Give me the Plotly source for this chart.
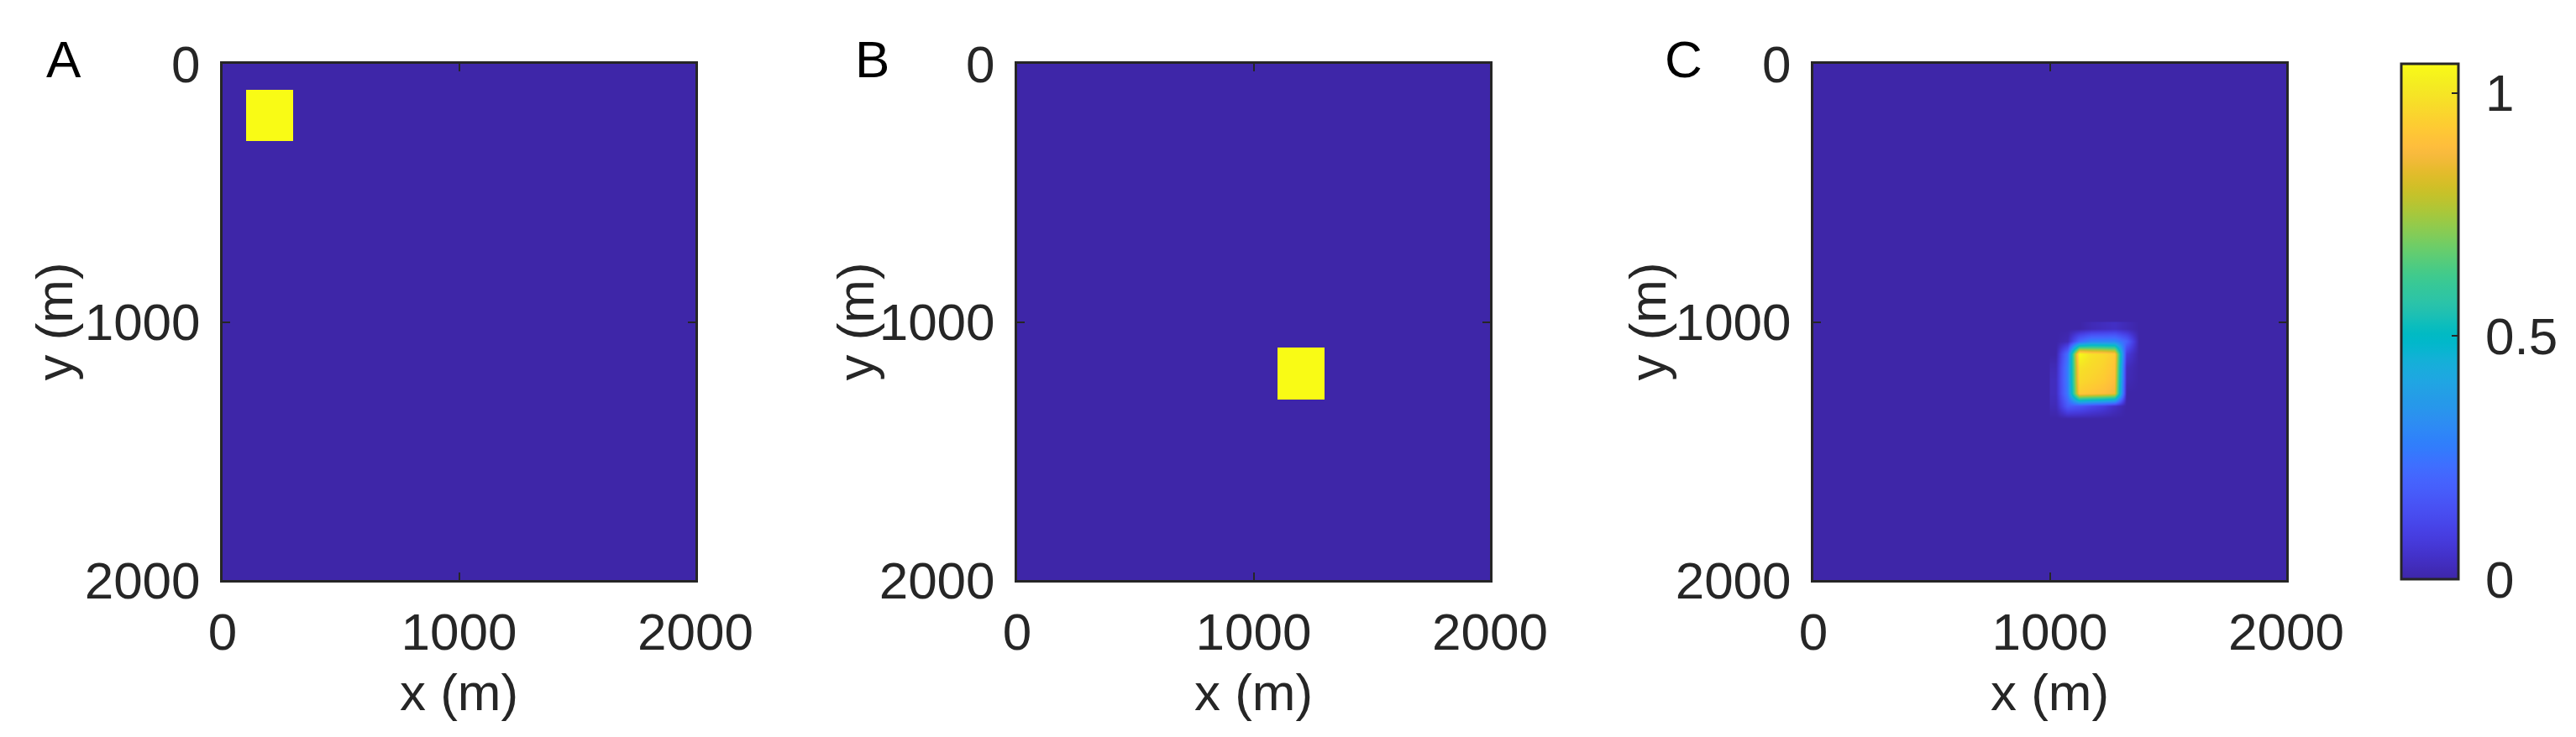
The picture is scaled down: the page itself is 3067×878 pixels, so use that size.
import numpy as np
import plotly.graph_objects as go

# ---------------- data ----------------
domain_edges = [0, 2000]          # model domain (m)
tick_vals = [0, 1000, 2000]
tick_text = ["0", "1000", "2000"]

# Panel A: initial square (value 1) between these coordinates
square_a_x = [100, 300]
square_a_y = [100, 300]
# Panel B: exact solution square
square_b_x = [1100, 1300]
square_b_y = [1100, 1300]
square_value = 1.0
background_value = 0.0

# Panel C: numerical solution, values on a 50 m grid (cell centres)
patch_c_x = [1025, 1075, 1125, 1175, 1225, 1275, 1325, 1375]
patch_c_y = [1025, 1075, 1125, 1175, 1225, 1275, 1325, 1375]
patch_c_z = [
    [0.00, 0.00, 0.00, 0.02, 0.03, 0.04, 0.02, 0.00],
    [0.00, 0.02, 0.22, 0.30, 0.30, 0.30, 0.20, 0.00],
    [0.00, 0.24, 1.06, 0.99, 0.97, 0.93, 0.08, 0.00],
    [0.02, 0.28, 0.99, 0.97, 0.95, 0.91, 0.03, 0.00],
    [0.03, 0.28, 0.97, 0.95, 0.93, 0.89, 0.02, 0.00],
    [0.03, 0.27, 0.93, 0.91, 0.89, 0.86, 0.00, 0.00],
    [0.02, 0.18, 0.16, 0.12, 0.09, 0.04, 0.00, 0.00],
    [0.00, 0.00, 0.00, 0.00, 0.00, 0.00, 0.00, 0.00],
]
cbar_max = 1.06
cbar_ticks = [0, 0.5, 1]
cbar_ticktext = ["0", "0.5", "1"]
panel_letters = ["A", "B", "C"]

# ---------------- parula colormap ----------------
parula = [
    [0.2422, 0.1504, 0.6603], [0.2504, 0.1650, 0.7076], [0.2578, 0.1818, 0.7511], [0.2647, 0.1978, 0.7952],
    [0.2706, 0.2147, 0.8364], [0.2751, 0.2342, 0.8710], [0.2783, 0.2559, 0.8991], [0.2803, 0.2782, 0.9221],
    [0.2813, 0.3006, 0.9414], [0.2810, 0.3228, 0.9579], [0.2795, 0.3447, 0.9717], [0.2760, 0.3667, 0.9829],
    [0.2699, 0.3892, 0.9906], [0.2602, 0.4123, 0.9952], [0.2440, 0.4358, 0.9988], [0.2206, 0.4603, 0.9973],
    [0.1963, 0.4847, 0.9892], [0.1834, 0.5074, 0.9798], [0.1786, 0.5289, 0.9682], [0.1764, 0.5499, 0.9520],
    [0.1687, 0.5703, 0.9359], [0.1540, 0.5902, 0.9218], [0.1460, 0.6091, 0.9079], [0.1380, 0.6276, 0.8973],
    [0.1248, 0.6459, 0.8883], [0.1113, 0.6635, 0.8763], [0.0952, 0.6798, 0.8598], [0.0689, 0.6948, 0.8394],
    [0.0297, 0.7082, 0.8163], [0.0036, 0.7203, 0.7917], [0.0067, 0.7312, 0.7660], [0.0433, 0.7411, 0.7394],
    [0.0964, 0.7500, 0.7120], [0.1408, 0.7584, 0.6842], [0.1717, 0.7670, 0.6554], [0.1938, 0.7758, 0.6251],
    [0.2161, 0.7843, 0.5923], [0.2470, 0.7918, 0.5567], [0.2906, 0.7973, 0.5188], [0.3406, 0.8008, 0.4789],
    [0.3909, 0.8029, 0.4354], [0.4456, 0.8024, 0.3909], [0.5044, 0.7993, 0.3480], [0.5616, 0.7942, 0.3045],
    [0.6174, 0.7876, 0.2612], [0.6720, 0.7793, 0.2227], [0.7242, 0.7698, 0.1910], [0.7738, 0.7598, 0.1646],
    [0.8203, 0.7498, 0.1535], [0.8634, 0.7406, 0.1596], [0.9035, 0.7330, 0.1774], [0.9393, 0.7288, 0.2100],
    [0.9728, 0.7298, 0.2394], [0.9956, 0.7434, 0.2371], [0.9970, 0.7659, 0.2199], [0.9952, 0.7893, 0.2028],
    [0.9892, 0.8136, 0.1885], [0.9802, 0.8386, 0.1751], [0.9721, 0.8638, 0.1624], [0.9640, 0.8890, 0.1506],
    [0.9592, 0.9135, 0.1353], [0.9626, 0.9365, 0.1204], [0.9687, 0.9594, 0.1042], [0.9769, 0.9839, 0.0805],
]
n = len(parula)
colorscale = [[i / (n - 1), "rgb(%d,%d,%d)" % tuple(round(c * 255) for c in rgb)] for i, rgb in enumerate(parula)]

# ---------------- figure ----------------
W, H = 3067, 878
FONT = "Liberation Sans, Arial, Helvetica, sans-serif"
TXT = "#262626"
FS = 62

# pixel layout
plot_left = [257, 1203, 2151]
plot_w = 563
plot_top, plot_bot = 68, 683
cb_left, cb_w = 2851, 68
cb_top, cb_bot = 68, 682

fig = go.Figure()


def square_field(sx, sy):
    xe = [domain_edges[0], sx[0], sx[1], domain_edges[1]]
    ye = [domain_edges[0], sy[0], sy[1], domain_edges[1]]
    z = [[background_value] * 3 for _ in range(3)]
    z[1][1] = square_value
    return xe, ye, z


for k, (sx, sy) in enumerate([(square_a_x, square_a_y), (square_b_x, square_b_y)]):
    xe, ye, z = square_field(sx, sy)
    fig.add_trace(go.Heatmap(
        x=xe, y=ye, z=z, colorscale=colorscale, zmin=0, zmax=1, showscale=False,
        xaxis="x" if k == 0 else "x2", yaxis="y" if k == 0 else "y2", hoverinfo="skip"))

# panel C: background + smoothed patch
fig.add_trace(go.Heatmap(
    x=domain_edges, y=domain_edges, z=[[background_value]], coloraxis="coloraxis",
    xaxis="x3", yaxis="y3", hoverinfo="skip"))
fig.add_trace(go.Heatmap(
    x=patch_c_x, y=patch_c_y, z=patch_c_z, coloraxis="coloraxis", zsmooth="best",
    xaxis="x3", yaxis="y3", hoverinfo="skip"))

axis_common = dict(
    range=[0, 2000], tickvals=tick_vals, ticktext=tick_text, ticks="inside", ticklen=9, tickwidth=2,
    tickcolor=TXT, showline=True, linewidth=3, linecolor=TXT, mirror="ticks", showgrid=False,
    zeroline=False, tickfont=dict(family=FONT, size=FS, color=TXT),
)

ydom = [1 - plot_bot / H, 1 - plot_top / H]
for i in range(3):
    sfx = "" if i == 0 else str(i + 1)
    xd = [plot_left[i] / W, (plot_left[i] + plot_w) / W]
    fig.layout["xaxis" + sfx] = dict(axis_common, domain=xd, anchor="y" + sfx, ticklabelstandoff=6)
    yax = dict(axis_common, domain=ydom, anchor="x" + sfx, ticklabelstandoff=11)
    yax["range"] = [2000, 0]
    fig.layout["yaxis" + sfx] = yax

fig.update_layout(
    width=W, height=H, margin=dict(l=0, r=0, t=0, b=0, autoexpand=False),
    paper_bgcolor="white", plot_bgcolor="white", showlegend=False,
    coloraxis=dict(
        colorscale=colorscale, cmin=0, cmax=cbar_max,
        colorbar=dict(
            x=cb_left / W, xanchor="left", xpad=0, y=1 - cb_bot / H, yanchor="bottom", ypad=0,
            len=cb_bot - cb_top, lenmode="pixels", thickness=cb_w, thicknessmode="pixels",
            outlinewidth=3, outlinecolor=TXT, tickvals=cbar_ticks,
            ticks="inside", ticklen=9, tickwidth=2, tickcolor=TXT, showticklabels=False,
        ),
    ),
)

annotations = []
letter_x = [68, 1030, 1997]
ytitle_x = [56, 1010, 1953]
for i in range(3):
    cx = plot_left[i] + plot_w / 2
    annotations.append(dict(x=cx / W, y=1 - 816 / H, xref="paper", yref="paper", text="x (m)",
                            showarrow=False, xanchor="center", yanchor="middle",
                            font=dict(family=FONT, size=FS, color=TXT)))
    annotations.append(dict(x=ytitle_x[i] / W, y=1 - ((plot_top + plot_bot) / 2) / H, xref="paper", yref="paper",
                            text="y (m)", textangle=-90, showarrow=False, xanchor="center", yanchor="middle",
                            font=dict(family=FONT, size=FS, color=TXT)))
    annotations.append(dict(x=letter_x[i] / W, y=1 - 63 / H, xref="paper", yref="paper", text=panel_letters[i],
                            showarrow=False, xanchor="center", yanchor="middle",
                            font=dict(family=FONT, size=FS, color="black")))

# colour-bar tick labels, placed at their values along the bar
for v, t in zip(cbar_ticks, cbar_ticktext):
    ypix = cb_bot - v / cbar_max * (cb_bot - cb_top)
    annotations.append(dict(x=(cb_left + cb_w + 30) / W, y=1 - ypix / H, xref="paper", yref="paper", text=t,
                            showarrow=False, xanchor="left", yanchor="middle",
                            font=dict(family=FONT, size=FS, color=TXT)))
fig.update_layout(annotations=annotations)

fig.write_html("out.html")
